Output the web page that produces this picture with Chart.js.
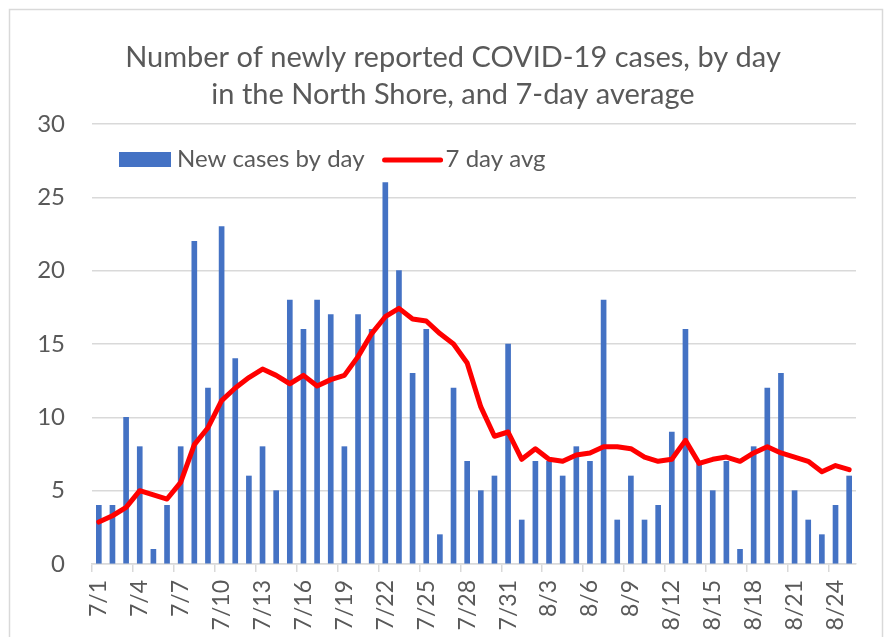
<!DOCTYPE html>
<html>
<head>
<meta charset="utf-8">
<script src="https://cdn.jsdelivr.net/npm/chart.js@4.4.1/dist/chart.umd.min.js"></script>
<style>
    body { margin: 0; background: #fff; }
    #wrap { width: 885px; height: 637px; }
</style>
</head>
<body>
<div id="wrap"><canvas id="casesChart" width="885" height="637"></canvas></div>
<script>
// Dates 7/1 .. 8/25
const days = [
    '7/1', '7/2', '7/3', '7/4', '7/5', '7/6', '7/7', '7/8', '7/9', '7/10',
    '7/11', '7/12', '7/13', '7/14', '7/15', '7/16', '7/17', '7/18', '7/19', '7/20',
    '7/21', '7/22', '7/23', '7/24', '7/25', '7/26', '7/27', '7/28', '7/29', '7/30',
    '7/31', '8/1', '8/2', '8/3', '8/4', '8/5', '8/6', '8/7', '8/8', '8/9',
    '8/10', '8/11', '8/12', '8/13', '8/14', '8/15', '8/16', '8/17', '8/18', '8/19',
    '8/20', '8/21', '8/22', '8/23', '8/24', '8/25'
];

// New cases by day (bars)
const newCases = [
    4, 4, 10, 8, 1, 4, 8, 22, 12, 23,
    14, 6, 8, 5, 18, 16, 18, 17, 8, 17,
    16, 26, 20, 13, 16, 2, 12, 7, 5, 6,
    15, 3, 7, 7, 6, 8, 7, 18, 3, 6,
    3, 4, 9, 16, 7, 5, 7, 1, 8, 12,
    13, 5, 3, 2, 4, 6
];

// 7 day average (line)
const avg7 = [
    2.86, 3.29, 3.86, 5.0, 4.71, 4.43, 5.57, 8.14, 9.29, 11.14,
    12.0, 12.71, 13.29, 12.86, 12.29, 12.86, 12.14, 12.57, 12.86, 14.14,
    15.71, 16.86, 17.43, 16.71, 16.57, 15.71, 15.0, 13.71, 10.71, 8.71,
    9.0, 7.14, 7.86, 7.14, 7.0, 7.43, 7.57, 8.0, 8.0, 7.86,
    7.29, 7.0, 7.14, 8.43, 6.86, 7.14, 7.29, 7.0, 7.57, 8.0,
    7.57, 7.29, 7.0, 6.29, 6.71, 6.43
];

const yTicks = [0, 5, 10, 15, 20, 25, 30];

const titleLines = ['Number of newly reported COVID-19 cases, by day', 'in the North Shore, and 7-day average'];

const textColor = '#595959';
const gridColor = '#d9d9d9';
const fontFamily = 'Lato, "Open Sans", sans-serif';

// white background + thin outer frame like the Excel chart
const frame = {
    id: 'frame',
    beforeDraw(chart) {
        const ctx = chart.ctx;
        ctx.save();
        ctx.fillStyle = '#fff';
        ctx.fillRect(0, 0, chart.width, chart.height);
        ctx.strokeStyle = gridColor;
        ctx.lineWidth = 1.5;
        ctx.strokeRect(9.5, 9.5, 873, 700);
        ctx.restore();
    }
};

// title is centred on the frame, not on the canvas, so draw it here
const frameTitle = {
    id: 'frameTitle',
    afterDraw(chart) {
        const ctx = chart.ctx;
        ctx.save();
        ctx.font = '29px ' + fontFamily;
        ctx.fillStyle = textColor;
        ctx.textAlign = 'center';
        ctx.textBaseline = 'alphabetic';
        ctx.fillText(titleLines[0], 453, 67);
        ctx.fillText(titleLines[1], 453, 104);
        ctx.restore();
    }
};

// legend sits inside the plot area, under the 30 gridline
const innerLegend = {
    id: 'innerLegend',
    afterDraw(chart) {
        const ctx = chart.ctx;
        const y = 160;
        ctx.save();
        ctx.font = '24px ' + fontFamily;
        ctx.textBaseline = 'alphabetic';

        ctx.fillStyle = '#4472C4';
        ctx.fillRect(119, 152, 52, 15);
        ctx.fillStyle = textColor;
        const label1 = 'New cases by day';
        ctx.fillText(label1, 177, 167);

        const lx = 177 + ctx.measureText(label1).width + 20;
        ctx.strokeStyle = '#FF0000';
        ctx.lineWidth = 5;
        ctx.lineCap = 'round';
        ctx.beginPath();
        ctx.moveTo(lx, y);
        ctx.lineTo(lx + 56, y);
        ctx.stroke();
        ctx.fillText('7 day avg', lx + 61, 167);
        ctx.restore();
    }
};

new Chart(document.getElementById('casesChart'), {
    type: 'bar',
    data: {
        labels: days,
        datasets: [
            {
                type: 'line',
                label: '7 day avg',
                data: avg7,
                borderColor: '#FF0000',
                backgroundColor: '#FF0000',
                borderWidth: 5,
                pointRadius: 0,
                tension: 0,
                borderJoinStyle: 'round',
                borderCapStyle: 'round',
                order: 0
            },
            {
                label: 'New cases by day',
                data: newCases,
                backgroundColor: '#4472C4',
                barThickness: 5,
                order: 1
            }
        ]
    },
    options: {
        responsive: false,
        animation: false,
        layout: { padding: { left: 20, right: 27, top: 124, bottom: 0 } },
        plugins: {
            legend: { display: false },
            tooltip: { enabled: false },
            title: { display: false }
        },
        scales: {
            x: {
                offset: true,
                grid: {
                    offset: true,
                    drawOnChartArea: false,
                    drawTicks: true,
                    tickLength: 8,
                    lineWidth: 1.5,
                    color: ctx => (ctx.index % 3 === 0 && ctx.index < days.length) ? gridColor : 'rgba(0,0,0,0)'
                },
                border: { display: true, color: gridColor, width: 1.5 },
                ticks: {
                    autoSkip: false,
                    maxRotation: 90,
                    minRotation: 90,
                    padding: 8,
                    color: textColor,
                    font: { family: fontFamily, size: 23 },
                    callback: (v, i) => i % 3 === 0 ? days[i] : ''
                },
                afterFit: scale => { scale.height = 73; }
            },
            y: {
                min: 0,
                max: 30,
                afterBuildTicks: scale => { scale.ticks = yTicks.map(v => ({ value: v })); },
                grid: { color: gridColor, lineWidth: 1.5, drawTicks: false },
                border: { display: false },
                ticks: {
                    padding: 27,
                    color: textColor,
                    font: { family: fontFamily, size: 24 }
                },
                afterFit: scale => { scale.width = 72; }
            }
        }
    },
    plugins: [frame, frameTitle, innerLegend]
});
</script>
</body>
</html>
